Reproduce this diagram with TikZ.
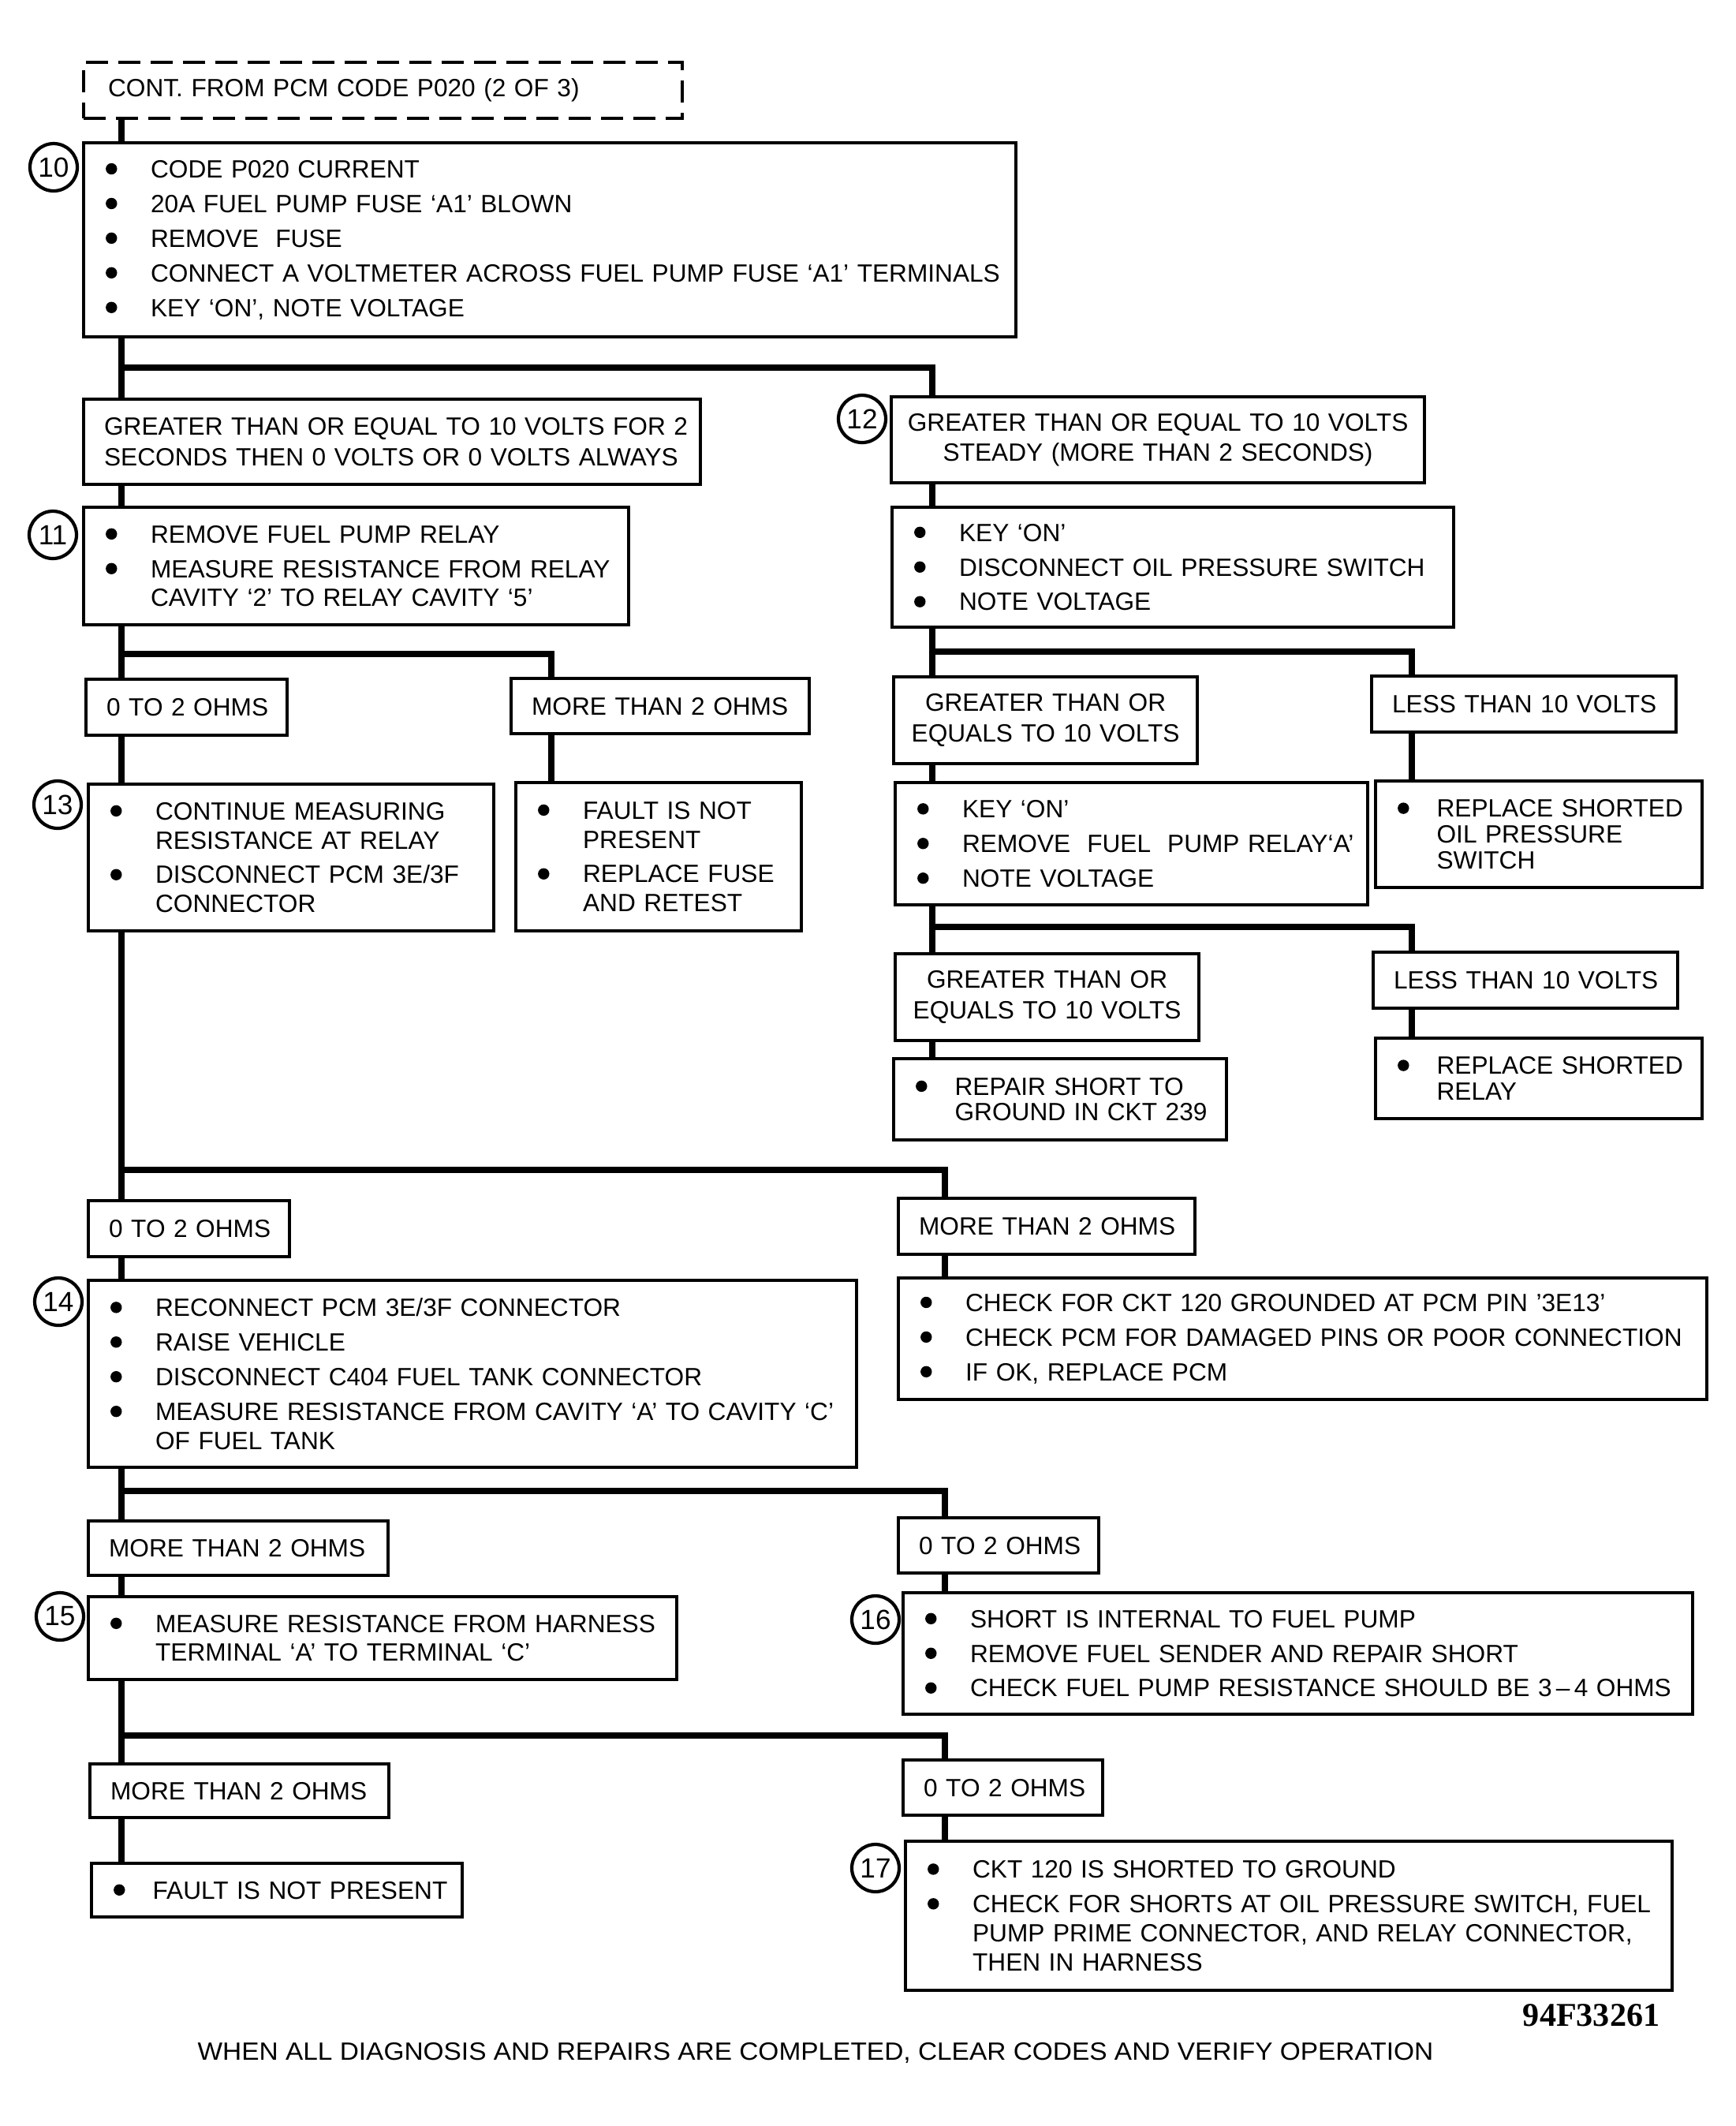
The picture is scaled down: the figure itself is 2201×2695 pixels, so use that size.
\documentclass[tikz,border=0pt]{standalone}
\usepackage{fontspec}
\setmainfont{Liberation Sans}
\newfontfamily\figfont{Liberation Serif}
\hyphenpenalty=10000
\exhyphenpenalty=10000

% bullets: wide and narrow text indent
\newcommand{\bdot}{\tikz[baseline=-3.2pt]\fill (0,0) circle (0.72mm);}
\newcommand{\bu}{\makebox[5.9mm][l]{\hspace{0.2mm}\bdot}}
\newcommand{\bn}{\makebox[5.15mm][l]{\hspace{0.2mm}\bdot}}
\newcommand{\bi}{\hspace*{5.9mm}}
\newcommand{\bni}{\hspace*{5.15mm}}

\begin{document}
\begin{tikzpicture}[
        x=0.1mm, y=-0.1mm,
        every node/.style={font=\fontsize{9}{10.5}\selectfont},
        box/.style={draw, line width=1.2pt, anchor=north west, inner sep=0pt},
        lbox/.style={box, align=left, execute at begin node={\leftskip=2.6mm}},
        cbox/.style={box, align=center},
        sz/.style 2 args={minimum width=#1*0.1mm, text width=#1*0.1mm, minimum height=#2*0.1mm},
        tight/.style={font=\fontsize{9}{9.3}\selectfont},
        num/.style={draw, circle, line width=1.2pt, minimum size=6mm, inner sep=0pt, font=\fontsize{10}{10}\selectfont},
        link/.style={line width=2.4pt}
    ]
    \useasboundingbox (0,0) rectangle (2201,2695);

    % Start
    \node[lbox, sz={759}{71}, dash pattern=on 2.8mm off 1.3mm, execute at begin node={\leftskip=3.1mm}] (cont) at (104,77) {CONT. FROM PCM CODE P020 (2 OF 3)};

    % Step 10
    \node[lbox, sz={1182}{246}] (b10) at (104,179) {\bu CODE P020 CURRENT\\[2pt]
        \bu 20A FUEL PUMP FUSE ‘A1’ BLOWN\\[2pt]
        \bu REMOVE\ \ FUSE\\[2pt]
        \bu CONNECT A VOLTMETER ACROSS FUEL PUMP FUSE ‘A1’ TERMINALS\\[2pt]
        \bu KEY ‘ON’, NOTE VOLTAGE};
    \node[num] (n10) at (68,212) {10};

    % Left branch
    \node[lbox, sz={782}{108}] (ga) at (104,504) {GREATER THAN OR EQUAL TO 10 VOLTS FOR 2\\[0.5pt] SECONDS THEN 0 VOLTS OR 0 VOLTS ALWAYS};
    \node[lbox, sz={691}{149}] (b11) at (104,641) {\bu REMOVE FUEL PUMP RELAY\\[2pt]
        \bu MEASURE RESISTANCE FROM RELAY\\
        \bi CAVITY ‘2’ TO RELAY CAVITY ‘5’};
    \node[num] (n11) at (67,678) {11};

    \node[lbox, sz={255}{71}] (o1) at (107,859) {0 TO 2 OHMS};
    \node[lbox, sz={378}{70}] (m1) at (646,858) {MORE THAN 2 OHMS};
    \node[lbox, sz={514}{186}] (b13) at (110,992) {\bu CONTINUE MEASURING\\
        \bi RESISTANCE AT RELAY\\[2pt]
        \bu DISCONNECT PCM 3E/3F\\
        \bi CONNECTOR};
    \node[num] (n13) at (73,1020) {13};
    \node[lbox, sz={362}{188}] (f1) at (652,990) {\bu FAULT IS NOT\\
        \bi PRESENT\\[2pt]
        \bu REPLACE FUSE\\
        \bi AND RETEST};

    % Step 12
    \node[cbox, sz={676}{109}] (g12) at (1128,501) {GREATER THAN OR EQUAL TO 10 VOLTS\\[0.5pt] STEADY (MORE THAN 2 SECONDS)};
    \node[num] (n12) at (1093,531) {12};
    \node[lbox, sz={712}{152}] (k1) at (1129,641) {\bu KEY ‘ON’\\[2pt]
        \bu DISCONNECT OIL PRESSURE SWITCH\\[2pt]
        \bu NOTE VOLTAGE};
    \node[cbox, sz={385}{110}] (g1) at (1131,856) {GREATER THAN OR\\[0.5pt] EQUALS TO 10 VOLTS};
    \node[lbox, sz={386}{71}] (l1) at (1737,855) {LESS THAN 10 VOLTS};
    \node[lbox, sz={599}{155}] (k2) at (1133,990) {\bu KEY ‘ON’\\[2pt]
        \bu REMOVE\ \ FUEL\ \ PUMP RELAY‘A’\\[2pt]
        \bu NOTE VOLTAGE};
    \node[lbox, sz={414}{135}, tight] (r1) at (1742,988) {\bn REPLACE SHORTED\\
        \bni OIL PRESSURE\\
        \bni SWITCH};
    \node[cbox, sz={385}{110}] (g2) at (1133,1207) {GREATER THAN OR\\[0.5pt] EQUALS TO 10 VOLTS};
    \node[lbox, sz={386}{71}] (l2) at (1739,1205) {LESS THAN 10 VOLTS};
    \node[lbox, sz={422}{103}, tight] (rp) at (1131,1340) {\bn REPAIR SHORT TO\\
        \bni GROUND IN CKT 239};
    \node[lbox, sz={414}{102}, tight] (rr) at (1742,1314) {\bn REPLACE SHORTED\\
        \bni RELAY};

    % Step 14
    \node[lbox, sz={255}{71}] (o2) at (110,1520) {0 TO 2 OHMS};
    \node[lbox, sz={376}{71}] (m2) at (1137,1517) {MORE THAN 2 OHMS};
    \node[lbox, sz={974}{237}] (b14) at (110,1621) {\bu RECONNECT PCM 3E/3F CONNECTOR\\[2pt]
        \bu RAISE VEHICLE\\[2pt]
        \bu DISCONNECT C404 FUEL TANK CONNECTOR\\[2pt]
        \bu MEASURE RESISTANCE FROM CAVITY ‘A’ TO CAVITY ‘C’\\
        \bi OF FUEL TANK};
    \node[num] (n14) at (74,1650) {14};
    \node[lbox, sz={1025}{154}] (ck) at (1137,1618) {\bu CHECK FOR CKT 120 GROUNDED AT PCM PIN ’3E13’\\[2pt]
        \bu CHECK PCM FOR DAMAGED PINS OR POOR CONNECTION\\[2pt]
        \bu IF OK, REPLACE PCM};

    % Steps 15 and 16
    \node[lbox, sz={380}{69}] (m3) at (110,1926) {MORE THAN 2 OHMS};
    \node[lbox, sz={254}{70}] (o3) at (1137,1922) {0 TO 2 OHMS};
    \node[lbox, sz={746}{105}] (b15) at (110,2022) {\bu MEASURE RESISTANCE FROM HARNESS\\
        \bi TERMINAL ‘A’ TO TERMINAL ‘C’};
    \node[num] (n15) at (76,2049) {15};
    \node[lbox, sz={1001}{154}] (b16) at (1143,2017) {\bu SHORT IS INTERNAL TO FUEL PUMP\\[2pt]
        \bu REMOVE FUEL SENDER AND REPAIR SHORT\\[2pt]
        \bu CHECK FUEL PUMP RESISTANCE SHOULD BE 3\,–\,4 OHMS};
    \node[num] (n16) at (1110,2053) {16};

    % Step 17
    \node[lbox, sz={379}{68}] (m4) at (112,2234) {MORE THAN 2 OHMS};
    \node[lbox, sz={253}{70}] (o4) at (1143,2229) {0 TO 2 OHMS};
    \node[lbox, sz={470}{68}] (fp) at (114,2360) {\bn FAULT IS NOT PRESENT};
    \node[lbox, sz={972}{189}] (b17) at (1146,2332) {\bu CKT 120 IS SHORTED TO GROUND\\[2pt]
        \bu CHECK FOR SHORTS AT OIL PRESSURE SWITCH, FUEL\\
        \bi PUMP PRIME CONNECTOR, AND RELAY CONNECTOR,\\
        \bi THEN IN HARNESS};
    \node[num] (n17) at (1110,2368) {17};

    \node[anchor=east, inner sep=0pt, font=\figfont\bfseries\fontsize{12}{12}\selectfont] (fig) at (2105,2555) {94F33261};
    \node (foot) at (1034,2602) {\scalebox{1.057}[1]{WHEN ALL DIAGNOSIS AND REPAIRS ARE COMPLETED, CLEAR CODES AND VERIFY OPERATION}};

    % Connector columns and junctions
    \coordinate (tL) at (154,0);
    \coordinate (tM) at (699,0);
    \coordinate (tR) at (1182,0);
    \coordinate (tRR) at (1790,0);
    \coordinate (tB) at (1198,0);
    \coordinate (j1) at (154,466);
    \coordinate (j2) at (154,829);
    \coordinate (j3) at (1182,826);
    \coordinate (j4) at (1182,1175);
    \coordinate (j5) at (154,1483);
    \coordinate (j6) at (154,1890);
    \coordinate (j7) at (154,2200);

    % Main trunk
    \draw[link] (cont.south -| tL) -- (b10.north -| tL);
    \draw[link] (b10.south -| tL) -- (ga.north -| tL);
    \draw[link] (ga.south -| tL) -- (b11.north -| tL);
    \draw[link] (b11.south -| tL) -- (o1.north -| tL);
    \draw[link] (o1.south -| tL) -- (b13.north -| tL);
    \draw[link] (b13.south -| tL) -- (o2.north -| tL);
    \draw[link] (o2.south -| tL) -- (b14.north -| tL);
    \draw[link] (b14.south -| tL) -- (m3.north -| tL);
    \draw[link] (m3.south -| tL) -- (b15.north -| tL);
    \draw[link] (b15.south -| tL) -- (m4.north -| tL);
    \draw[link] (m4.south -| tL) -- (fp.north -| tL);

    % Branches to the right
    \draw[link] (j1) -| (g12.north -| tR);
    \draw[link] (j2) -| (m1.north -| tM);
    \draw[link] (m1.south -| tM) -- (f1.north -| tM);
    \draw[link] (j5) -| (m2.north -| tB);
    \draw[link] (m2.south -| tB) -- (ck.north -| tB);
    \draw[link] (j6) -| (o3.north -| tB);
    \draw[link] (o3.south -| tB) -- (b16.north -| tB);
    \draw[link] (j7) -| (o4.north -| tB);
    \draw[link] (o4.south -| tB) -- (b17.north -| tB);

    % Step 12 column
    \draw[link] (g12.south -| tR) -- (k1.north -| tR);
    \draw[link] (k1.south -| tR) -- (g1.north -| tR);
    \draw[link] (j3) -| (l1.north -| tRR);
    \draw[link] (g1.south -| tR) -- (k2.north -| tR);
    \draw[link] (l1.south -| tRR) -- (r1.north -| tRR);
    \draw[link] (k2.south -| tR) -- (g2.north -| tR);
    \draw[link] (j4) -| (l2.north -| tRR);
    \draw[link] (g2.south -| tR) -- (rp.north -| tR);
    \draw[link] (l2.south -| tRR) -- (rr.north -| tRR);

\end{tikzpicture}
\end{document}
